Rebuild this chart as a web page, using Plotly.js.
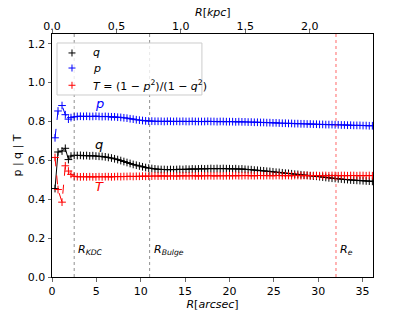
<!DOCTYPE html>
<html><head><meta charset="utf-8">
<script src="https://cdn.plot.ly/plotly-3.0.1.min.js"></script>
<style>html,body{margin:0;padding:0;background:#fff}#chart{width:415px;height:311px}</style>
</head><body><div id="chart"></div>
<script>
// Radius in arcsec
const R = [0.34,0.68,1.13,1.5,1.85,2.14,2.5,
 2.85,3.2,3.55,3.9,4.25,4.6,4.95,5.3,5.65,6.0,
 6.35,6.7,7.05,7.4,7.75,8.1,8.45,8.8,9.15,9.5,
 9.85,10.2,10.55,10.9,11.25,11.6,11.95,12.3,12.65,13.0,
 13.35,13.7,14.05,14.4,14.75,15.1,15.45,15.8,16.15,16.5,
 16.85,17.2,17.55,17.9,18.25,18.6,18.95,19.3,19.65,20.0,
 20.35,20.7,21.05,21.4,21.75,22.1,22.45,22.8,23.15,23.5,
 23.85,24.2,24.55,24.9,25.25,25.6,25.95,26.3,26.65,27.0,
 27.35,27.7,28.05,28.4,28.75,29.1,29.45,29.8,30.15,30.5,
 30.85,31.2,31.55,31.9,32.25,32.6,32.95,33.3,33.65,34.0,
 34.35,34.7,35.05,35.4,35.75,36.1];
const qVals = [0.455,0.643,0.648,0.662,0.604,0.622,0.626,
 0.625,0.626,0.624,0.625,0.623,0.624,0.622,0.621,0.620,0.618,
 0.615,0.612,0.608,0.604,0.599,0.594,0.589,0.584,0.579,0.575,
 0.571,0.567,0.563,0.560,0.558,0.556,0.554,0.553,0.553,0.552,
 0.553,0.552,0.553,0.554,0.553,0.555,0.554,0.556,0.555,0.556,
 0.557,0.556,0.557,0.558,0.557,0.558,0.557,0.558,0.557,0.557,
 0.556,0.557,0.555,0.556,0.554,0.553,0.552,0.550,0.549,0.547,
 0.546,0.544,0.543,0.541,0.539,0.538,0.536,0.534,0.533,0.531,
 0.529,0.528,0.526,0.524,0.523,0.521,0.519,0.518,0.516,0.514,
 0.512,0.510,0.508,0.507,0.505,0.504,0.502,0.501,0.499,0.498,
 0.497,0.496,0.495,0.494,0.493,0.492];
const pVals = [0.716,0.854,0.882,0.835,0.812,0.820,0.824,
 0.826,0.827,0.826,0.827,0.826,0.826,0.827,0.826,0.825,0.826,
 0.825,0.824,0.824,0.822,0.821,0.819,0.817,0.814,0.812,0.809,
 0.807,0.805,0.803,0.802,0.802,0.801,0.801,0.801,0.800,0.801,
 0.801,0.800,0.801,0.800,0.801,0.800,0.800,0.801,0.800,0.800,
 0.800,0.800,0.801,0.800,0.800,0.799,0.800,0.800,0.799,0.799,
 0.799,0.798,0.799,0.798,0.798,0.797,0.797,0.796,0.796,0.795,
 0.795,0.794,0.794,0.793,0.793,0.792,0.791,0.791,0.790,0.790,
 0.789,0.789,0.788,0.788,0.787,0.787,0.786,0.786,0.785,0.785,
 0.784,0.784,0.784,0.783,0.783,0.782,0.782,0.781,0.781,0.780,
 0.780,0.780,0.779,0.779,0.778,0.778];
const tVals = [0.615,0.450,0.385,0.572,0.545,0.528,0.518,
 0.516,0.515,0.516,0.515,0.516,0.515,0.515,0.516,0.515,0.516,
 0.516,0.515,0.516,0.517,0.516,0.517,0.517,0.518,0.517,0.518,
 0.518,0.519,0.518,0.519,0.519,0.520,0.519,0.520,0.520,0.519,
 0.520,0.520,0.519,0.520,0.521,0.520,0.520,0.521,0.520,0.520,
 0.521,0.520,0.521,0.521,0.520,0.521,0.521,0.520,0.521,0.521,
 0.521,0.522,0.521,0.521,0.522,0.521,0.522,0.521,0.522,0.522,
 0.521,0.522,0.522,0.521,0.522,0.522,0.521,0.522,0.522,0.521,
 0.522,0.522,0.521,0.522,0.522,0.521,0.522,0.522,0.521,0.522,
 0.522,0.521,0.522,0.522,0.521,0.522,0.522,0.521,0.522,0.522,
 0.521,0.522,0.522,0.521,0.522,0.521];

const legendNames = ['<i>q</i>','<i>p</i>','<i>T</i> = (1 − <i>p</i><sup>2</sup>)/(1 − <i>q</i><sup>2</sup>)'];
const seriesColors = ['#000000','#0000ff','#ff0000'];
const seriesDash = ['solid','dash','dash'];
const seriesLabels = ['q','p','T'];
const seriesLabelX = [5.3,5.3,5.3];
const seriesLabelY = [0.68,0.89,0.467];

const markerLines = [2.5, 11, 32];
const markerLineColors = ['#444444','#444444','#ff0000'];
const markerLineTexts = ['<i>R</i><sub><i>KDC</i></sub>','<i>R</i><sub><i>Bulge</i></sub>','<i>R</i><sub><i>e</i></sub>'];
const markerLineTextY = 0.14;

const xRange = [0, 36.17];
const arcsecPerKpc = 14.52;
const yTicks = [0,0.2,0.4,0.6,0.8,1.0,1.2];
const xTicks = [0,5,10,15,20,25,30,35];
const kpcTicks = [0,0.5,1.0,1.5,2.0];
const topTitle = '<i>R</i>[<i>kpc</i>]';

// legend placement (paper fractions of the plot area)
const legendBox = {x0:0.0156, x1:0.467, y0:0.749, y1:0.963};
const legendRowY = [0.922, 0.860, 0.789];
const legendMarkX = 0.0623;
const legendTextX = 0.1215;

const seriesY = [qVals,pVals,tVals];
const traces = [];
seriesY.forEach((ys,i)=>{
  traces.push({x:R, y:ys, mode:'lines+markers', showlegend:false,
    line:{color:seriesColors[i], width:1, dash:seriesDash[i]},
    marker:{symbol:'cross-thin', size:5.5, color:seriesColors[i], line:{color:seriesColors[i], width:1}}});
});
traces.push({x:[null], y:[null], xaxis:'x2', mode:'markers', showlegend:false, hoverinfo:'skip'});

const shapes = markerLines.map((v,i)=>({type:'line', xref:'x', yref:'paper', x0:v, x1:v, y0:0, y1:1,
  line:{color:markerLineColors[i], width:0.6, dash:'dot'}}));
shapes.push({type:'rect', xref:'paper', yref:'paper', x0:legendBox.x0, x1:legendBox.x1, y0:legendBox.y0, y1:legendBox.y1,
  line:{color:'#cccccc', width:1}, fillcolor:'rgba(255,255,255,0.8)', layer:'above'});
legendRowY.forEach((yy,i)=>{
  shapes.push({type:'line', xref:'paper', yref:'paper', xsizemode:'pixel', ysizemode:'pixel',
    xanchor:legendMarkX, yanchor:yy, x0:-3.5, x1:3.5, y0:0, y1:0, line:{color:seriesColors[i], width:1}, layer:'above'});
  shapes.push({type:'line', xref:'paper', yref:'paper', xsizemode:'pixel', ysizemode:'pixel',
    xanchor:legendMarkX, yanchor:yy, x0:0, x1:0, y0:-3.5, y1:3.5, line:{color:seriesColors[i], width:1}, layer:'above'});
});

const annotations = [];
markerLines.forEach((v,i)=>annotations.push({x:v, y:markerLineTextY, xref:'x', yref:'y', text:markerLineTexts[i],
  showarrow:false, xanchor:'left', xshift:2, font:{size:11, color:'#000'}}));
seriesLabels.forEach((t,i)=>annotations.push({x:seriesLabelX[i], y:seriesLabelY[i], text:'<i>'+t+'</i>',
  showarrow:false, font:{size:13, color:seriesColors[i]}}));
legendNames.forEach((t,i)=>annotations.push({xref:'paper', yref:'paper', x:legendTextX, y:legendRowY[i], text:t,
  xanchor:'left', yanchor:'middle', showarrow:false, font:{size:11, color:'#000'}}));
annotations.push({xref:'paper', yref:'paper', x:0.5, y:1.0905, text:topTitle, xanchor:'center', yanchor:'middle',
  showarrow:false, font:{size:11, color:'#000'}});

const fnt = {family:'DejaVu Sans, sans-serif', size:11, color:'#000'};
const layout = {
  width:415, height:311,
  margin:{l:52, r:42, t:34, b:34, pad:0},
  paper_bgcolor:'#fff', plot_bgcolor:'#fff',
  font:fnt,
  showlegend:false,
  xaxis:{range:xRange, tickvals:xTicks, ticktext:xTicks.map(String), ticks:'outside', ticklen:3.5, tickwidth:0.8,
    showline:true, linecolor:'#000', linewidth:1, mirror:false, showgrid:false, zeroline:false,
    title:{text:'<i>R</i>[<i>arcsec</i>]', font:{size:11}, standoff:3}, automargin:false},
  xaxis2:{overlaying:'x', side:'top', range:[xRange[0]/arcsecPerKpc, xRange[1]/arcsecPerKpc],
    tickvals:kpcTicks, ticktext:kpcTicks.map(v=>v.toFixed(1)), ticks:'outside', ticklen:3.5, tickwidth:0.8,
    showline:true, linecolor:'#000', linewidth:1, showgrid:false, zeroline:false, ticklabelstandoff:-5,
    automargin:false},
  yaxis:{range:[0,1.25], tickvals:yTicks, ticktext:yTicks.map(v=>v.toFixed(1)), ticks:'outside', ticklen:3.5, tickwidth:0.8,
    showline:true, linecolor:'#000', linewidth:1, mirror:true, showgrid:false, zeroline:false,
    title:{text:'p | q | T', font:{size:11}, standoff:3}, automargin:false},
  shapes:shapes, annotations:annotations
};
Plotly.newPlot('chart', traces, layout, {displayModeBar:false, staticPlot:true});
</script></body></html>
